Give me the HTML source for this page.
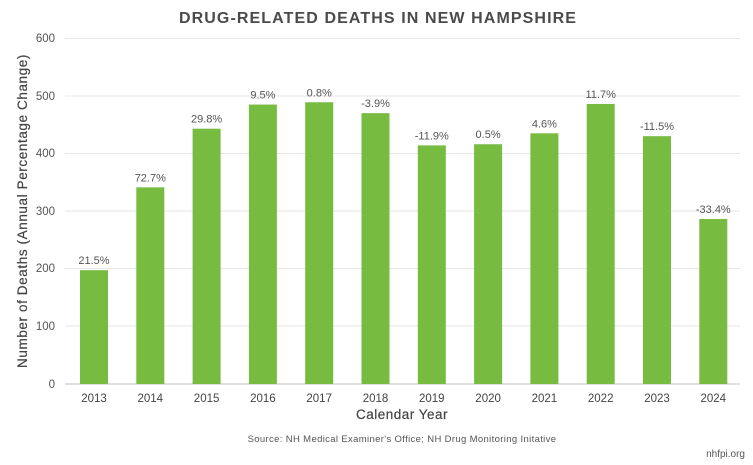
<!DOCTYPE html>
<html><head><style>
html,body{margin:0;padding:0;background:#fff;}
svg{display:block;font-family:"Liberation Sans",sans-serif;}
</style></head><body>
<svg width="753" height="465" viewBox="0 0 753 465">
<text x="378" y="23" text-anchor="middle" font-size="16" font-weight="bold" fill="#4a4a4a" letter-spacing="1.1">DRUG-RELATED DEATHS IN NEW HAMPSHIRE</text>
<g stroke="#e6e6e6" stroke-width="1">
<line x1="65" x2="740" y1="38.5" y2="38.5"/>
<line x1="65" x2="740" y1="96" y2="96"/>
<line x1="65" x2="740" y1="153.5" y2="153.5"/>
<line x1="65" x2="740" y1="211" y2="211"/>
<line x1="65" x2="740" y1="268.5" y2="268.5"/>
<line x1="65" x2="740" y1="326" y2="326"/>
</g>
<line x1="65" x2="740" y1="384" y2="384" stroke="#bfbfbf"/>
<g font-size="11.5" fill="#555" text-anchor="end">
<text x="55" y="42">600</text><text x="55" y="100">500</text><text x="55" y="157">400</text>
<text x="55" y="215">300</text><text x="55" y="272">200</text><text x="55" y="330">100</text><text x="55" y="388">0</text>
</g>
<text transform="translate(27,211) rotate(-90)" text-anchor="middle" font-size="13.5" fill="#444" letter-spacing="0.6" stroke="#444" stroke-width="0.2">Number of Deaths (Annual Percentage Change)</text>
<g id="bars" fill="#77bb41"></g>
<g id="lbl" font-size="11" fill="#555" text-anchor="middle"></g>
<g id="yr" font-size="11.5" fill="#444" text-anchor="middle"></g>
<text x="402" y="419" text-anchor="middle" font-size="13.5" fill="#444" letter-spacing="0.5" stroke="#444" stroke-width="0.2">Calendar Year</text>
<text x="402" y="442" text-anchor="middle" font-size="9.5" fill="#555" letter-spacing="0.35">Source: NH Medical Examiner's Office; NH Drug Monitoring Initative</text>
<text x="745" y="457" text-anchor="end" font-size="10" fill="#555">nhfpi.org</text>
<script>
var v=[198,342,444,486,490,471,415,417,436,487,431,287];
var l=["21.5%","72.7%","29.8%","9.5%","0.8%","-3.9%","-11.9%","0.5%","4.6%","11.7%","-11.5%","-33.4%"];
var b=document.getElementById('bars'),L=document.getElementById('lbl'),Y=document.getElementById('yr'),ns="http://www.w3.org/2000/svg";
for(var i=0;i<12;i++){var cx=94+i*56.3,h=v[i]*0.575,t=384-h;
var r=document.createElementNS(ns,'rect');r.setAttribute('x',cx-14);r.setAttribute('y',t);r.setAttribute('width',28);r.setAttribute('height',h);b.appendChild(r);
var a=document.createElementNS(ns,'text');a.setAttribute('x',cx);a.setAttribute('y',t-6);a.textContent=l[i];L.appendChild(a);
var c=document.createElementNS(ns,'text');c.setAttribute('x',cx);c.setAttribute('y',402);c.textContent=2013+i;Y.appendChild(c);}
</script>
</svg>
</body></html>
